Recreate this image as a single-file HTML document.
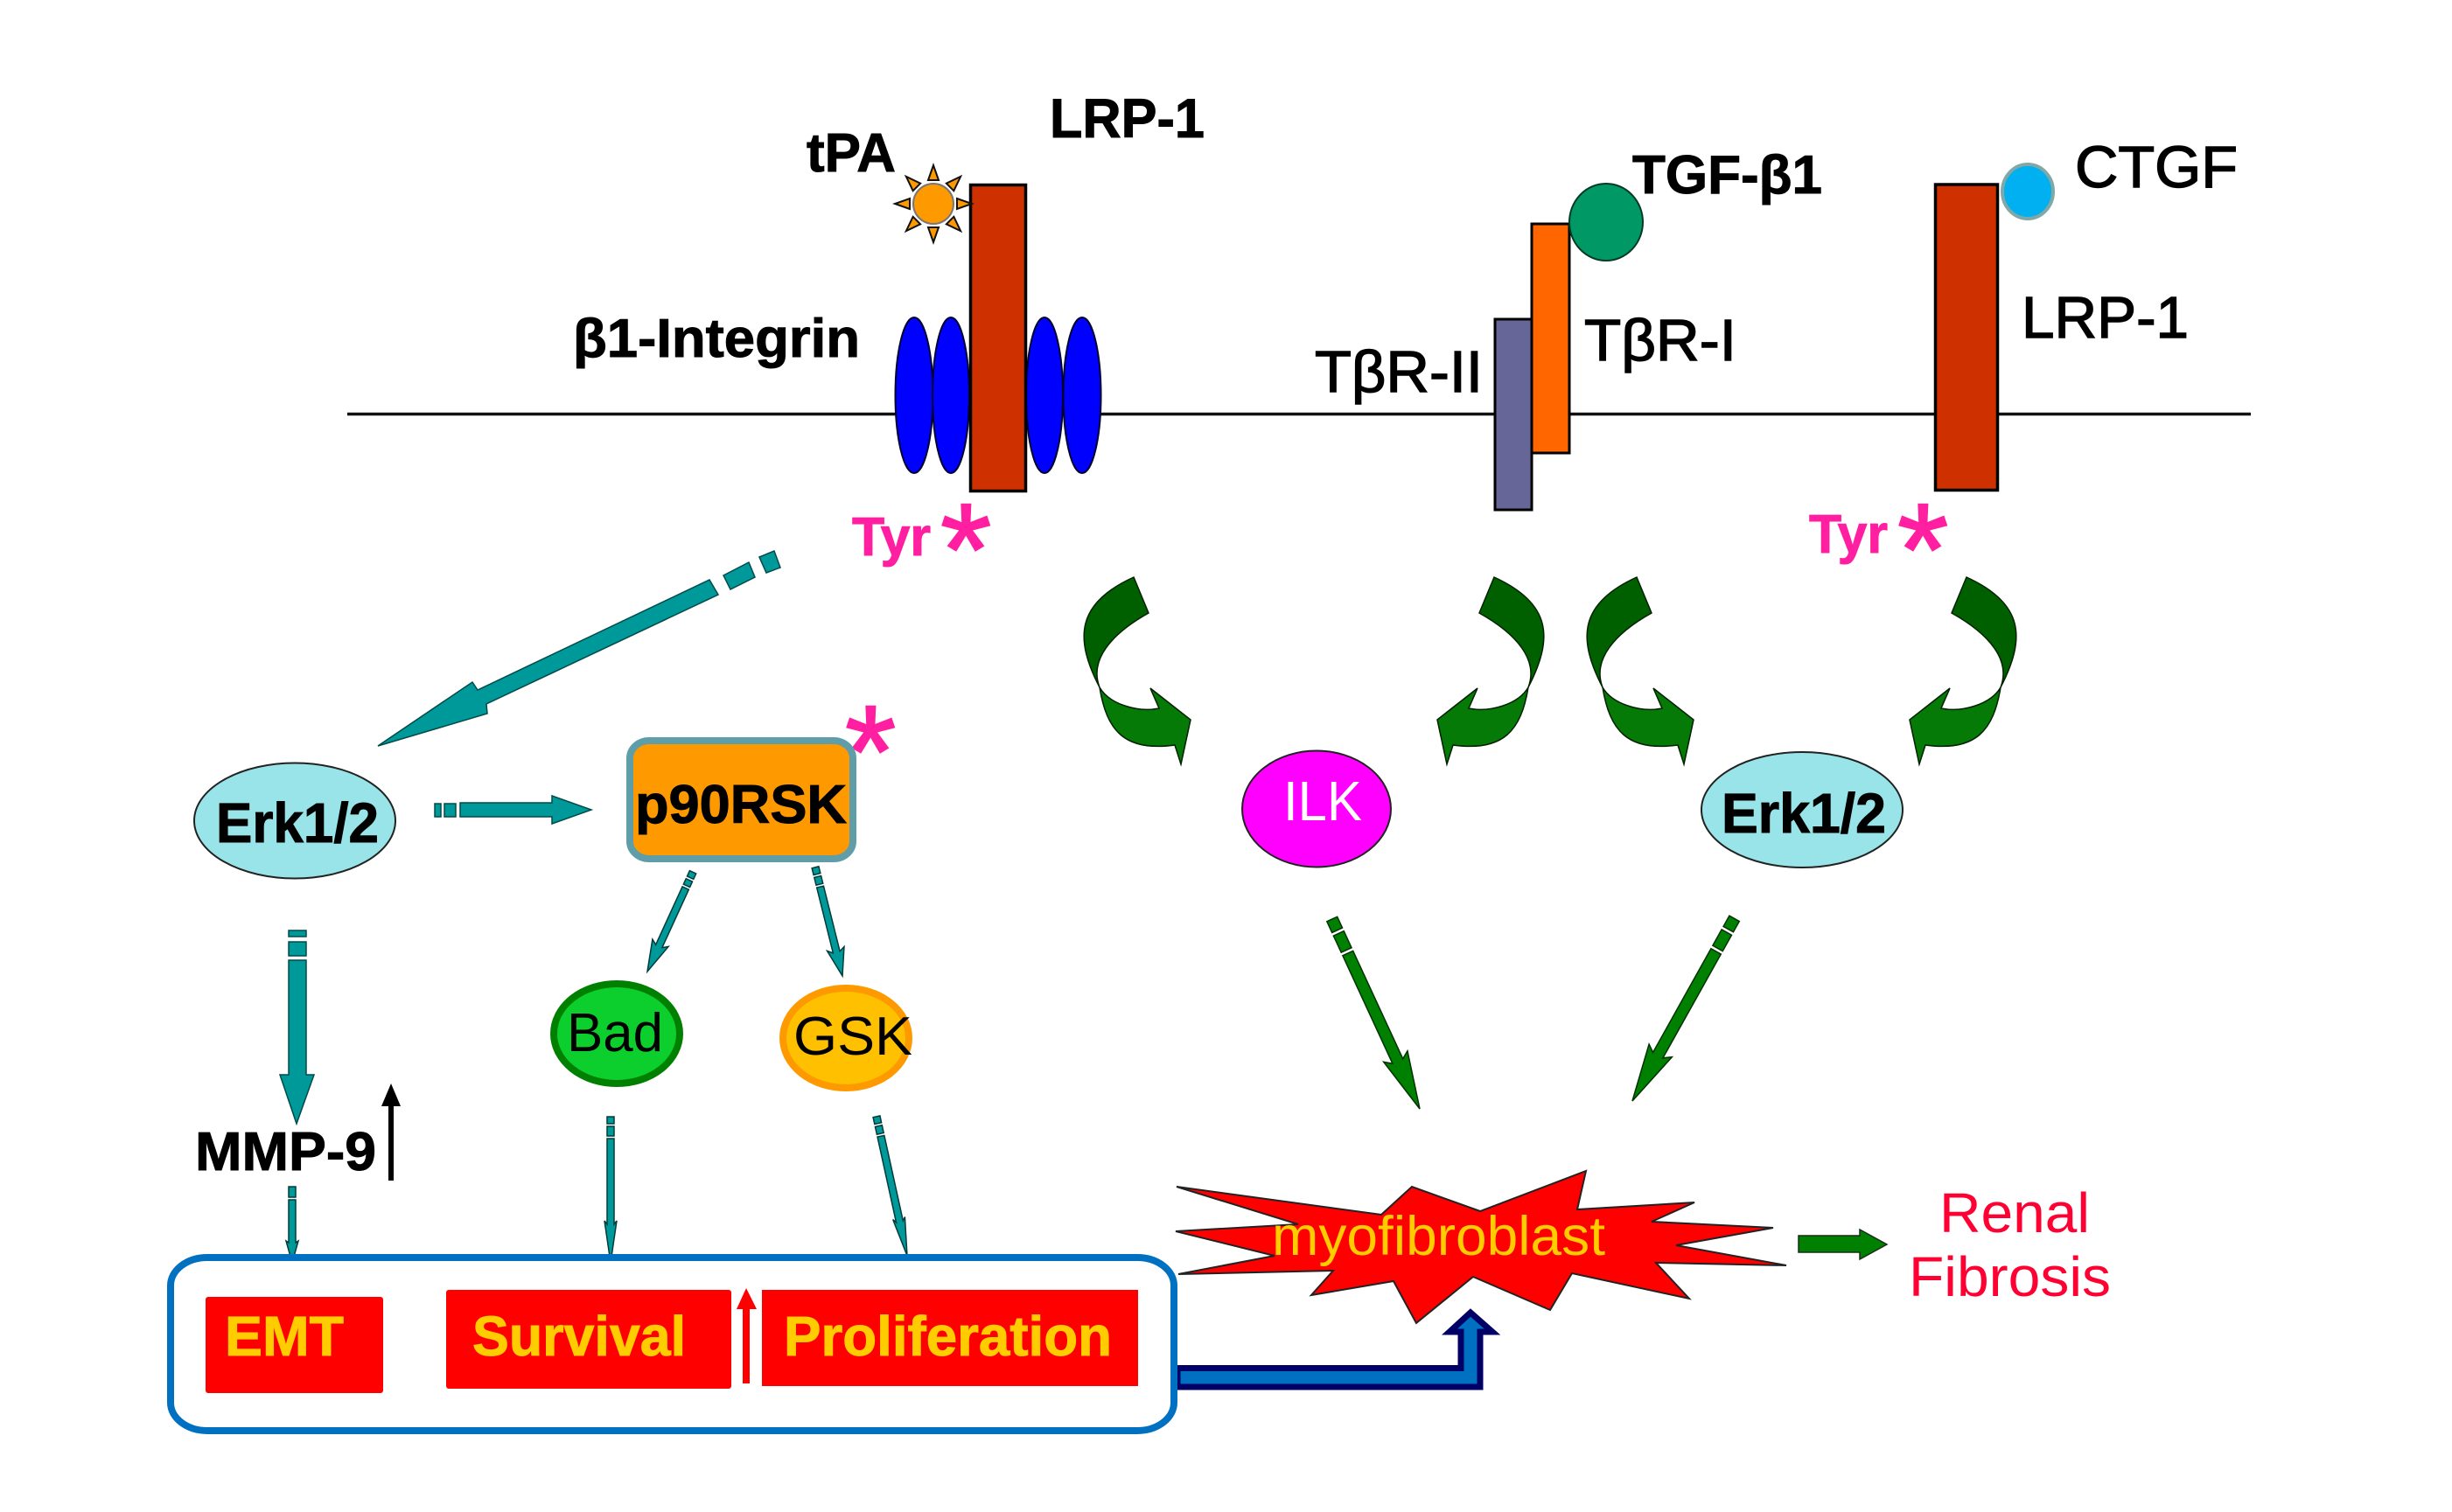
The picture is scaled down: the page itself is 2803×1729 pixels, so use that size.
<!DOCTYPE html>
<html><head><meta charset="utf-8"><style>
html,body{margin:0;padding:0;background:#fff}
svg{display:block}
text{font-family:"Liberation Sans",sans-serif}
.b{font-weight:bold;stroke:currentColor;stroke-width:1}
.r{stroke:#000;stroke-width:1.4}
.a{fill:#ff1fa0;stroke:#ff1fa0;stroke-width:2}
</style></head><body>
<svg width="2803" height="1729" viewBox="0 0 2803 1729" xmlns="http://www.w3.org/2000/svg">
<defs>
<g id="curve">
<path d="M1296,660 L1313,701 C1270,725 1245,755 1257,786 C1228,730 1230,690 1296,660 Z" fill="#006000" stroke="#002000" stroke-width="1.5"/>
<path d="M1257,786 C1268,805 1300,815 1325,810 L1315,787 L1361,823 L1350,874 L1343,852 C1285,860 1265,835 1257,786 Z" fill="#067a06" stroke="#002000" stroke-width="1.5"/>
</g>
<g id="garrow" fill="#008000" stroke="#003000" stroke-width="1.5">
<polygon points="0,0 -15,-66 -6.5,-60 -6.5,-196 6.5,-196 6.5,-60 15,-66"/>
<rect x="-6.5" y="-221" width="13" height="21"/>
<rect x="-6.5" y="-239" width="13" height="14"/>
</g>
</defs>
<rect width="2803" height="1729" fill="#fff"/>

<!-- membrane -->
<line x1="397" y1="473.5" x2="2573" y2="473.5" stroke="#111" stroke-width="3.5"/>

<!-- integrin -->
<g fill="#0000ff" stroke="#000030" stroke-width="2">
<ellipse cx="1045" cy="452" rx="21.5" ry="89"/>
<ellipse cx="1087" cy="452" rx="21" ry="89"/>
<ellipse cx="1194" cy="452" rx="21" ry="89"/>
<ellipse cx="1237" cy="452" rx="21.5" ry="89"/>
</g>
<rect x="1109.5" y="211.5" width="63" height="350" fill="#cf3000" stroke="#000" stroke-width="3.5"/>

<!-- tPA sun -->
<g transform="translate(1067,233)">
<g fill="#ff9900" stroke="#111" stroke-width="2">
<polygon points="-6,-27 0,-44 6,-27"/>
<polygon points="-6,-27 0,-44 6,-27" transform="rotate(45)"/>
<polygon points="-6,-27 0,-44 6,-27" transform="rotate(90)"/>
<polygon points="-6,-27 0,-44 6,-27" transform="rotate(135)"/>
<polygon points="-6,-27 0,-44 6,-27" transform="rotate(180)"/>
<polygon points="-6,-27 0,-44 6,-27" transform="rotate(225)"/>
<polygon points="-6,-27 0,-44 6,-27" transform="rotate(270)"/>
<polygon points="-6,-27 0,-44 6,-27" transform="rotate(315)"/>
</g>
<circle r="23" fill="#ff9900" stroke="#777" stroke-width="2"/>
</g>

<!-- TGF receptors -->
<rect x="1709" y="365" width="42" height="218" fill="#666699" stroke="#000" stroke-width="3"/>
<rect x="1751" y="256" width="43" height="262" fill="#ff6600" stroke="#000" stroke-width="3"/>
<ellipse cx="1836" cy="254" rx="42" ry="44" fill="#009966" stroke="#003a22" stroke-width="2"/>

<!-- right LRP -->
<rect x="2212.5" y="211" width="71" height="349.5" fill="#cf3000" stroke="#000" stroke-width="3.5"/>
<ellipse cx="2318" cy="219" rx="29" ry="31" fill="#00b0f0" stroke="#7fa8a8" stroke-width="4"/>

<!-- upper labels -->
<text class="b" color="#000" x="1200" y="157" font-size="63" textLength="177" lengthAdjust="spacingAndGlyphs">LRP-1</text>
<text class="b" color="#000" x="922" y="196" font-size="62" textLength="102" lengthAdjust="spacingAndGlyphs">tPA</text>
<text class="b" color="#000" x="655" y="408" font-size="62" textLength="328" lengthAdjust="spacingAndGlyphs">β1-Integrin</text>
<text class="b" color="#000" x="1866" y="221" font-size="62" textLength="217" lengthAdjust="spacingAndGlyphs">TGF-β1</text>
<text class="r" x="1503" y="448" font-size="67" textLength="192" lengthAdjust="spacingAndGlyphs">TβR-II</text>
<text class="r" x="1811" y="412" font-size="67" textLength="174" lengthAdjust="spacingAndGlyphs">TβR-I</text>
<text class="r" x="2372" y="214" font-size="67" textLength="186" lengthAdjust="spacingAndGlyphs">CTGF</text>
<text class="r" x="2311" y="386" font-size="67" textLength="191" lengthAdjust="spacingAndGlyphs">LRP-1</text>

<!-- Tyr -->
<text class="b" color="#ff1fa0" fill="#ff1fa0" x="974" y="635" font-size="62" textLength="90" lengthAdjust="spacingAndGlyphs">Tyr</text>
<text class="b" color="#ff1fa0" fill="#ff1fa0" x="2068" y="632" font-size="62" textLength="90" lengthAdjust="spacingAndGlyphs">Tyr</text>
<text class="a" x="1075" y="680" font-size="150">*</text>
<text class="a" x="2169" y="680" font-size="150">*</text>
<text class="a" x="966" y="911" font-size="150">*</text>

<!-- curved arrows -->
<use href="#curve"/>
<use href="#curve" transform="translate(575,0)"/>
<use href="#curve" transform="translate(3004,0) scale(-1,1)"/>
<use href="#curve" transform="translate(3544,0) scale(-1,1)"/>

<!-- ILK / Erk right -->
<ellipse cx="1505" cy="925" rx="85" ry="66.5" fill="#ff00ff" stroke="#222" stroke-width="2"/>
<text x="1467" y="938" font-size="64" fill="#fff" textLength="90" lengthAdjust="spacingAndGlyphs">ILK</text>
<ellipse cx="2060" cy="926" rx="115" ry="66" fill="#98e4e8" stroke="#222" stroke-width="2"/>
<text class="b" color="#000" x="1968" y="952" font-size="64" textLength="188" lengthAdjust="spacingAndGlyphs">Erk1/2</text>

<!-- green straight arrows -->
<use href="#garrow" transform="translate(1623,1268) rotate(-24.8)"/>
<use href="#garrow" transform="translate(1866,1259) rotate(29.2)"/>

<!-- big teal diagonal -->
<g fill="#009999" stroke="#004a4a" stroke-width="1.5">
<polygon points="432,853 540,780 546,789 811,663 821,680 556,805 557,816"/>
<polygon points="827,658 856,643 863,660 835,674"/>
<polygon points="868,637 885,630 892,649 876,655"/>
</g>

<!-- Erk left -->
<ellipse cx="337" cy="938.5" rx="115" ry="66" fill="#98e4e8" stroke="#222" stroke-width="2"/>
<text class="b" color="#000" x="247" y="963" font-size="64" textLength="186" lengthAdjust="spacingAndGlyphs">Erk1/2</text>

<!-- horizontal teal arrow -->
<g fill="#009999" stroke="#004a4a" stroke-width="1.5">
<rect x="497" y="919" width="7" height="15"/>
<rect x="508" y="919" width="13" height="15"/>
<polygon points="526,918 631,918 631,910 676,926 631,942 631,934 526,934"/>
</g>

<!-- p90RSK -->
<rect x="720" y="847" width="255" height="135" rx="22" ry="20" fill="#ff9900" stroke="#5f9ea8" stroke-width="8"/>
<text class="b" color="#000" x="726" y="941" font-size="62" textLength="242" lengthAdjust="spacingAndGlyphs">p90RSK</text>

<!-- Bad & GSK -->
<ellipse cx="705" cy="1182" rx="72" ry="57" fill="#0ccf2d" stroke="#008000" stroke-width="8"/>
<text x="648" y="1202" font-size="62" textLength="110" lengthAdjust="spacingAndGlyphs">Bad</text>
<ellipse cx="967" cy="1187" rx="72" ry="57" fill="#ffc000" stroke="#ff9900" stroke-width="8"/>
<text x="907" y="1206" font-size="62" textLength="136" lengthAdjust="spacingAndGlyphs">GSK</text>

<!-- Erk -> MMP vertical arrow -->
<g fill="#009999" stroke="#004a4a" stroke-width="1.5">
<rect x="330" y="1064" width="20" height="7"/>
<rect x="330" y="1077" width="20" height="16"/>
<polygon points="339,1285 320,1229 330,1229 330,1098 350,1098 350,1229 359,1229"/>
</g>

<!-- small teal arrows -->
<g fill="#009999" stroke="#003a3a" stroke-width="1.5">
<g transform="translate(740,1111) rotate(24.6)">
<polygon points="0,0 -10,-36 -4,-32 -4,-105 4,-105 4,-32 10,-36"/>
<rect x="-4" y="-115" width="8" height="7"/><rect x="-4" y="-125" width="8" height="7"/>
</g>
<g transform="translate(963,1116) rotate(-14)">
<polygon points="0,0 -10,-32 -4,-28 -4,-105 4,-105 4,-28 10,-32"/>
<rect x="-4" y="-117" width="8" height="9"/><rect x="-4" y="-128" width="8" height="8"/>
</g>
<g transform="translate(698,1444)">
<polygon points="0,0 -7,-48 -4,-44 -4,-142 4,-142 4,-44 7,-48"/>
<rect x="-4" y="-156" width="8" height="11"/><rect x="-4" y="-167" width="8" height="8"/>
</g>
<g transform="translate(1037,1436) rotate(-12.4)">
<polygon points="0,0 -7,-44 -4,-40 -4,-140 4,-140 4,-40 7,-44"/>
<rect x="-4" y="-152" width="8" height="9"/><rect x="-4" y="-163" width="8" height="8"/>
</g>
<g transform="translate(334,1444)">
<polygon points="0,0 -7,-25 -4,-23 -4,-72 4,-72 4,-23 7,-25"/>
<rect x="-4" y="-87" width="8" height="12"/>
</g>
</g>

<!-- MMP-9 -->
<text class="b" color="#000" x="223" y="1338" font-size="62" textLength="207" lengthAdjust="spacingAndGlyphs">MMP-9</text>
<line x1="447" y1="1350" x2="447" y2="1262" stroke="#000" stroke-width="6"/>
<polygon points="447,1239 436,1265 458,1265" fill="#000"/>

<!-- Blue arrow (behind box edge) -->
<polygon points="1346,1564.5 1670,1564.5 1670,1523 1657,1523 1681,1501 1706,1523 1692,1523 1692,1586 1346,1586" fill="#0070c0" stroke="#000066" stroke-width="7"/>

<!-- outcome box -->
<rect x="195" y="1438" width="1147" height="198" rx="42" ry="32" fill="#fff" stroke="#0070c0" stroke-width="8"/>
<rect x="235" y="1483" width="203" height="110" rx="3" fill="#ff0000"/>
<rect x="510" y="1475" width="326" height="113" rx="3" fill="#ff0000"/>
<rect x="871" y="1475" width="430" height="110" fill="#ff0000"/>
<text class="b" color="#ffcc00" fill="#ffcc00" x="257" y="1550" font-size="64" textLength="136" lengthAdjust="spacingAndGlyphs">EMT</text>
<text class="b" color="#ffcc00" fill="#ffcc00" x="540" y="1550" font-size="64" textLength="244" lengthAdjust="spacingAndGlyphs">Survival</text>
<text class="b" color="#ffcc00" fill="#ffcc00" x="896" y="1550" font-size="64" textLength="375" lengthAdjust="spacingAndGlyphs">Proliferation</text>
<polygon points="853,1473 842,1497 849,1497 849,1582 857,1582 857,1497 865,1497" fill="#ff0000"/>

<!-- myofibroblast -->
<polygon transform="translate(0,2)" points="1345,1355 1579,1387 1614,1355 1692,1383 1813,1337 1803,1381 1937,1373 1888,1395 2027,1402 1916,1422 2042,1445 1893,1442 1931,1483 1797,1454 1772,1496 1684,1458 1619,1511 1593,1463 1499,1479 1524,1451 1347,1455 1457,1434 1344,1406 1484,1398" fill="#ff0000" stroke="#222" stroke-width="2"/>
<text x="1454" y="1435" font-size="63" fill="#ffcc00" textLength="381" lengthAdjust="spacingAndGlyphs">myofibroblast</text>

<!-- to fibrosis -->
<polygon points="2056,1413 2126,1413 2126,1406 2157,1423 2126,1440 2126,1432 2056,1432" fill="#008000" stroke="#1a2a1a" stroke-width="1.5"/>
<text x="2217" y="1409" font-size="64" fill="#ff0033" textLength="172" lengthAdjust="spacingAndGlyphs">Renal</text>
<text x="2182" y="1482" font-size="64" fill="#ff0033" textLength="231" lengthAdjust="spacingAndGlyphs">Fibrosis</text>
</svg>
</body></html>
